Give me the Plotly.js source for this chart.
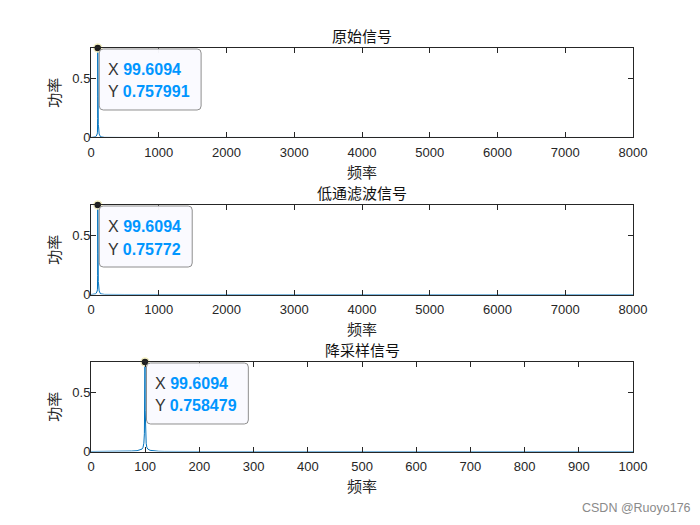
<!DOCTYPE html>
<html><head><meta charset="utf-8">
<script src="https://cdn.plot.ly/plotly-3.0.1.min.js"></script>
<style>html,body{margin:0;padding:0;background:#fff}</style>
</head><body><div id="chart" style="width:700px;height:525px"></div>
<script>
// ---- data ----
const titles = ['原始信号', '低通滤波信号', '降采样信号'];
const xLabel = '频率';
const yLabel = '功率';

const freqOrig = [0, 30, 50, 65, 75, 82, 88, 92, 95, 97, 98.5, 99.2, 99.6094, 100, 100.8, 102, 104, 107, 112, 120, 140, 200, 500, 1000, 2000, 4000, 6000, 8000];
const powOrig  = [0, 0.0005, 0.002, 0.005, 0.01, 0.016, 0.022, 0.03, 0.045, 0.08, 0.16, 0.35, 0.757991, 0.36, 0.2, 0.15, 0.13, 0.11, 0.09, 0.03, 0.006, 0.001, 0.0003, 0.0001, 0, 0, 0, 0];

const freqFilt = [0, 30, 50, 65, 75, 82, 88, 92, 95, 97, 98.5, 99.2, 99.6094, 100, 100.8, 102, 104, 107, 112, 120, 140, 200, 500, 1000, 2000, 4000, 6000, 8000];
const powFilt  = [0, 0.0005, 0.002, 0.005, 0.01, 0.016, 0.022, 0.03, 0.045, 0.08, 0.16, 0.35, 0.75772, 0.36, 0.2, 0.15, 0.13, 0.11, 0.09, 0.03, 0.006, 0.001, 0.0003, 0.0001, 0, 0, 0, 0];

const freqDown = [0, 20, 40, 55, 65, 75, 85, 90, 94, 96, 97.5, 98.5, 99.2, 99.6094, 100, 100.8, 101.8, 103, 105, 109, 115, 125, 135, 150, 200, 400, 700, 1000];
const powDown  = [0, 0, 0.0005, 0.001, 0.002, 0.004, 0.007, 0.011, 0.02, 0.035, 0.07, 0.15, 0.35, 0.758479, 0.35, 0.15, 0.07, 0.035, 0.02, 0.01, 0.005, 0.002, 0.0008, 0.0003, 0, 0, 0, 0];

const peakX = [99.6094, 99.6094, 99.6094];
const peakXText = ['99.6094', '99.6094', '99.6094'];
const peakY = [0.757991, 0.75772, 0.758479];
const peakYText = ['0.757991', '0.75772', '0.758479'];

const xTicksWide = [0, 1000, 2000, 3000, 4000, 5000, 6000, 7000, 8000];
const xTicksNarrow = [0, 100, 200, 300, 400, 500, 600, 700, 800, 900, 1000];
const yTicks = [0, 0.5];
const yTickText = ['0', '0.5'];
const watermark = 'CSDN @Ruoyo176';

// ---- build ----
const series = [[freqOrig, powOrig], [freqFilt, powFilt], [freqDown, powDown]];
const xRanges = [[0, 8000], [0, 8000], [0, 1000]];
const xTickSets = [xTicksWide, xTicksWide, xTicksNarrow];
const yDomains = [[0.7381, 0.9086], [0.4390, 0.6095], [0.1400, 0.3105]];

const axisColor = '#262626';
const tickFont = {family: 'Liberation Sans, Arial, sans-serif', size: 13, color: axisColor};
const cjkFont = {family: 'Noto Sans CJK SC, sans-serif', size: 15, color: axisColor};
const tipFontFamily = 'Liberation Sans, Arial, sans-serif';

const ctx = document.createElement('canvas').getContext('2d');
function textW(label, value) {
  ctx.font = '16px "Liberation Sans", Arial';
  let w = ctx.measureText(label + ' ').width;
  ctx.font = 'bold 16px "Liberation Sans", Arial';
  return w + ctx.measureText(value).width;
}

const traces = [];
const layout = {
  width: 700, height: 525,
  margin: {l: 0, r: 0, t: 0, b: 0},
  paper_bgcolor: '#ffffff', plot_bgcolor: '#ffffff',
  showlegend: false,
  shapes: [], annotations: []
};

for (let i = 0; i < 3; i++) {
  const sx = i === 0 ? '' : String(i + 1);
  const xa = 'x' + sx, ya = 'y' + sx;
  traces.push({
    x: series[i][0], y: series[i][1], xaxis: xa, yaxis: ya,
    type: 'scatter', mode: 'lines',
    line: {color: '#0072BD', width: 1}, hoverinfo: 'skip'
  });
  traces.push({
    x: [peakX[i]], y: [peakY[i]], xaxis: xa, yaxis: ya,
    type: 'scatter', mode: 'markers', cliponaxis: false,
    marker: {size: 8, color: '#1f1f1f', line: {color: '#f6f2c4', width: 1.5}}, hoverinfo: 'skip'
  });
  const common = {
    showline: true, linecolor: axisColor, linewidth: 1, mirror: 'ticks',
    ticks: 'inside', ticklen: 5, tickwidth: 1, tickcolor: axisColor,
    showgrid: false, zeroline: false, tickfont: tickFont, fixedrange: true
  };
  layout['xaxis' + sx] = Object.assign({}, common, {
    domain: [0.13, 0.9043], anchor: ya, range: xRanges[i],
    tickvals: xTickSets[i], ticktext: xTickSets[i].map(String),
    ticklabelstandoff: 3,
    title: {text: xLabel, font: cjkFont, standoff: 8}
  });
  layout['yaxis' + sx] = Object.assign({}, common, {
    domain: yDomains[i], anchor: xa, range: [0, Math.max(...series[i][1])],
    tickvals: yTicks, ticktext: yTickText,
    ticklabelstandoff: -3,
    title: {text: yLabel, font: cjkFont, standoff: 8}
  });
  // title
  layout.annotations.push({
    text: titles[i], xref: xa + ' domain', yref: ya + ' domain', x: 0.5, y: 1,
    xanchor: 'center', yanchor: 'bottom', yshift: 0, showarrow: false,
    font: {family: 'Noto Sans CJK SC, sans-serif', size: 15, color: '#111111'}
  });
  // datatip box
  const w = Math.max(textW('X', peakXText[i]), textW('Y', peakYText[i])) + 20;
  const x0 = 1.5, x1 = x0 + w, y0 = -1, y1 = -62, r = 4;
  layout.shapes.push({
    type: 'path', xref: xa, yref: ya, xsizemode: 'pixel', ysizemode: 'pixel',
    xanchor: peakX[i], yanchor: peakY[i],
    path: `M ${x0 + r},${y0} L ${x1 - r},${y0} Q ${x1},${y0} ${x1},${y0 - r} L ${x1},${y1 + r} Q ${x1},${y1} ${x1 - r},${y1} L ${x0 + r},${y1} Q ${x0},${y1} ${x0},${y1 + r} L ${x0},${y0 - r} Q ${x0},${y0} ${x0 + r},${y0} Z`,
    fillcolor: 'rgba(250,250,255,0.97)', line: {color: '#8e8e8e', width: 1}, layer: 'above'
  });
  const rows = [['X', peakXText[i], -21.5], ['Y', peakYText[i], -44]];
  rows.forEach(([lab, val, ys]) => {
    layout.annotations.push({
      text: `<span style="color:#333333">${lab} </span><b><span style="color:#0096ff">${val}</span></b>`,
      xref: xa, yref: ya, x: peakX[i], y: peakY[i],
      xanchor: 'left', yanchor: 'middle', xshift: 8.5, yshift: ys,
      showarrow: false, font: {family: tipFontFamily, size: 16, color: '#333333'}
    });
  });
}

layout.annotations.push({
  text: watermark, xref: 'paper', yref: 'paper', x: 693 / 700, y: 1 - 508 / 525,
  xanchor: 'right', yanchor: 'middle', showarrow: false,
  font: {family: 'Liberation Sans, Arial, sans-serif', size: 12.5, color: '#8a8a8a'}
});

Plotly.newPlot('chart', traces, layout, {displayModeBar: false, staticPlot: true});
</script>
</body></html>
